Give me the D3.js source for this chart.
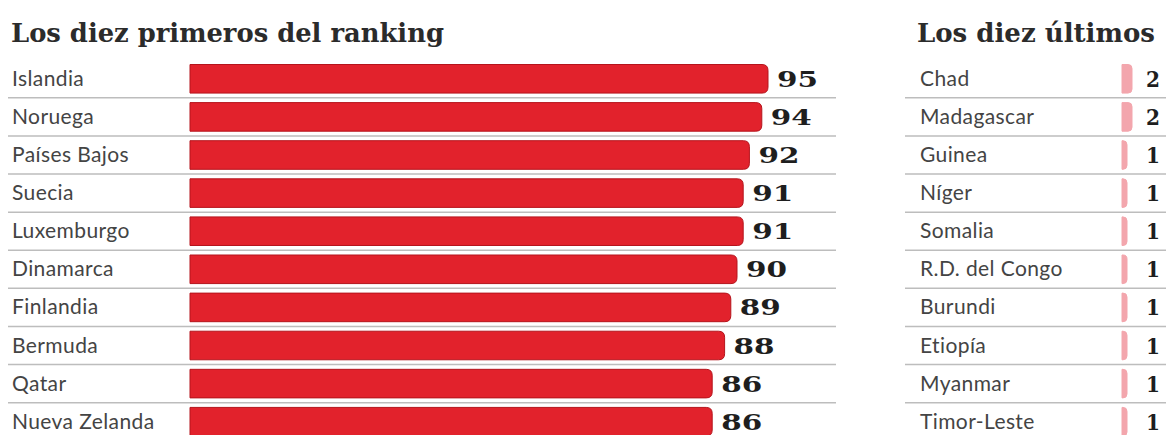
<!DOCTYPE html>
<html lang="es">
<head>
<meta charset="UTF-8">
<script src="https://d3js.org/d3.v7.min.js"></script>
<title>Los diez primeros del ranking</title>
<style>
  body { margin: 0; background: #fff; }
  .title { font-family: "DejaVu Serif", serif; font-weight: bold; fill: #2b2b2b; }
  .label { font-family: Lato, "Open Sans", sans-serif; fill: #444; font-size: 21px; letter-spacing: 0.4px; }
  .value { font-family: "DejaVu Serif", serif; font-weight: bold; fill: #1e1e1e; font-size: 22px; }
  .sep { stroke: #bdbdbd; stroke-width: 1.5; }
</style>
</head>
<body>
<script>
// datos
var topCountries = ["Islandia", "Noruega", "Países Bajos", "Suecia", "Luxemburgo",
                    "Dinamarca", "Finlandia", "Bermuda", "Qatar", "Nueva Zelanda"]
var topValues = [95, 94, 92, 91, 91, 90, 89, 88, 86, 86]
var lastCountries = ["Chad", "Madagascar", "Guinea", "Níger", "Somalia",
                     "R.D. del Congo", "Burundi", "Etiopía", "Myanmar", "Timor-Leste"]
var lastValues = [2, 2, 1, 1, 1, 1, 1, 1, 1, 1]
var titles = ["Los diez primeros del ranking", "Los diez últimos"]

var width = 1170, height = 435
var top0 = 59.75, step = 38.1

var svg = d3.select("body").append("svg")
    .attr("width", width)
    .attr("height", height)

function panel(names, values, opt) {
    var rows = d3.scaleBand()
        .domain(names)
        .range([top0, top0 + step * names.length])
        .paddingInner(0.25)
        .paddingOuter(0.125)

    var x = d3.scaleLinear().domain(opt.domain).range(opt.range)
    var g = svg.append("g")

    g.append("text")
        .attr("class", "title")
        .attr("x", opt.titleX)
        .attr("y", 42)
        .style("font-size", opt.titleSize + "px")
        .text(opt.title)

    // separadores
    g.selectAll("line.sep")
        .data(names.slice(1))
        .enter().append("line")
        .attr("class", "sep")
        .attr("x1", opt.lineX[0])
        .attr("x2", opt.lineX[1])
        .attr("y1", function (d) { return rows(d) - (rows.step() - rows.bandwidth()) / 2 })
        .attr("y2", function (d) { return rows(d) - (rows.step() - rows.bandwidth()) / 2 })

    g.selectAll("text.label")
        .data(names)
        .enter().append("text")
        .attr("class", "label")
        .attr("x", opt.labelX)
        .attr("y", function (d) { return rows(d) + rows.bandwidth() / 2 + 7 })
        .text(function (d) { return d })

    var data = names.map(function (d, i) { return { name: d, v: values[i] } })

    g.selectAll("path.bar")
        .data(data)
        .enter().append("path")
        .attr("class", "bar")
        .attr("fill", opt.fill)
        .attr("stroke", opt.stroke)
        .attr("stroke-width", 1)
        .attr("d", function (d) {
            var x0 = opt.barStart, x1 = x(d.v), y0 = rows(d.name), h = rows.bandwidth()
            var r = Math.min(opt.radius, x1 - x0)
            return "M" + x0 + "," + y0 + "H" + (x1 - r) +
                "Q" + x1 + "," + y0 + " " + x1 + "," + (y0 + r) +
                "V" + (y0 + h - r) +
                "Q" + x1 + "," + (y0 + h) + " " + (x1 - r) + "," + (y0 + h) +
                "H" + x0 + "Z"
        })

    // cifras anchas, estilo Clarendon
    g.selectAll("text.value")
        .data(data)
        .enter().append("text")
        .attr("class", "value")
        .attr("x", function (d) { return opt.valueX ? opt.valueX : x(d.v) + 9 })
        .attr("y", function (d) { return rows(d.name) + rows.bandwidth() / 2 + 8 })
        .attr("textLength", function (d) { return String(d.v).length * opt.digitW })
        .attr("lengthAdjust", "spacingAndGlyphs")
        .text(function (d) { return d.v })
}

panel(topCountries, topValues, {
    title: titles[0], titleX: 11, titleSize: 25.8,
    domain: [0, 95], range: [179, 768], barStart: 190,
    lineX: [8, 836], labelX: 12, radius: 6, digitW: 20.5,
    fill: "#e2222c", stroke: "#b5141c"
})

panel(lastCountries, lastValues, {
    title: titles[1], titleX: 917, titleSize: 26,
    domain: [0, 2], range: [1122, 1132], barStart: 1122,
    lineX: [905, 1166], labelX: 920, radius: 4, valueX: 1146, digitW: 14,
    fill: "#f3a6ad", stroke: "#f3a6ad"
})
</script>
</body>
</html>
